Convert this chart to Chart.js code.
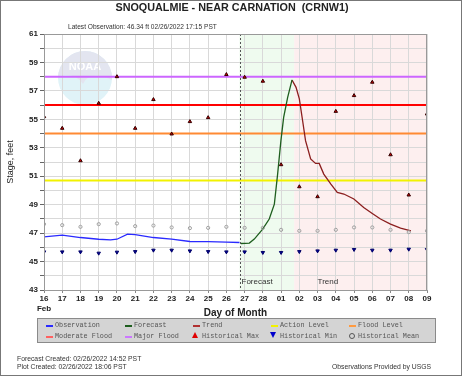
<!DOCTYPE html>
<html>
<head>
<meta charset="utf-8">
<script src="https://cdn.jsdelivr.net/npm/chart.js@4/dist/chart.umd.min.js"></script>
<style>
  html, body { margin: 0; padding: 0; background: #fff; }
  #wrap { position: relative; width: 462px; height: 376px; box-sizing: border-box; border: 1px solid #777; overflow: hidden; font-family: "Liberation Sans", Arial, sans-serif; }
  #chart { position: absolute; left: 0; top: 0; }
  .txt { position: absolute; white-space: pre; color: #222; }
  #title { left: 0; width: 462px; top: 0px; text-align: center; font-weight: bold; font-size: 10.8px; }
  #latest { left: 67px; top: 22px; font-size: 6.6px; color: #333; }
  #legend { position: absolute; left: 36px; top: 317px; width: 399px; height: 25px; box-sizing: border-box; background: #d4d4d4; border: 1px solid #8a8a8a; font-family: "Liberation Mono", "DejaVu Sans Mono", monospace; font-size: 6.8px; color: #555; }
  .li { position: absolute; white-space: pre; }
  .sw { position: absolute; width: 7px; height: 2px; }
  .up { position: absolute; width: 0; height: 0; border-left: 3.5px solid transparent; border-right: 3.5px solid transparent; border-bottom: 6px solid #e00000; }
  .dn { position: absolute; width: 0; height: 0; border-left: 3.5px solid transparent; border-right: 3.5px solid transparent; border-top: 6px solid #0000cc; }
  .ci { position: absolute; width: 4px; height: 4px; border: 1px solid #555; border-radius: 50%; }
  .foot { font-size: 6.8px; color: #333; }
</style>
</head>
<body>
<div id="wrap">
  <canvas id="chart" width="462" height="376"></canvas>
  <div class="txt" id="title">SNOQUALMIE - NEAR CARNATION  (CRNW1)</div>
  <div class="txt" id="latest">Latest Observation: 46.34 ft 02/26/2022 17:15 PST</div>
  <div id="legend"></div>
  <div class="txt foot" style="left:16px; top:354px;">Forecast Created: 02/26/2022 14:52 PST</div>
  <div class="txt foot" style="left:16px; top:362px;">Plot Created: 02/26/2022 18:06 PST</div>
  <div class="txt foot" style="right:30px; top:362px;">Observations Provided by USGS</div>
</div>
<script>
// x values are days since Feb 16 00:00
const dayLabels = ['16', '17', '18', '19', '20', '21', '22', '23', '24', '25', '26', '27', '28',
                   '01', '02', '03', '04', '05', '06', '07', '08', '09'];

const obsDays  = [0, 1, 2, 3, 3.65, 4, 4.58, 5, 6, 7, 8, 9, 10, 10.72];
const obsStage = [46.74, 46.86, 46.69, 46.57, 46.53, 46.57, 46.93, 46.89, 46.69, 46.57, 46.41, 46.4, 46.36, 46.34];

const fcstDays  = [10.8, 11.26, 11.53, 11.99, 12.35, 12.63, 12.81, 12.99, 13.14, 13.36, 13.6];
const fcstStage = [46.27, 46.3, 46.58, 47.28, 47.99, 49.04, 51.15, 53.5, 55.14, 56.55, 57.77];

const trendDays  = [13.6, 13.82, 14.0, 14.18, 14.34, 14.62, 14.89, 15.09, 15.34, 15.73, 16.08, 16.44,
                    16.99, 17.53, 18.0, 18.45, 19.0, 19.55, 20.12];
const trendStage = [57.77, 57.25, 56.44, 54.9, 53.5, 52.21, 51.9, 51.9, 51.15, 50.45, 49.86, 49.75,
                    49.4, 48.8, 48.38, 47.99, 47.63, 47.35, 47.16];

const histMax  = [55.19, 54.37, 52.09, 56.13, 58.0, 54.37, 56.39, 53.97, 54.84, 55.12, 58.15,
                  57.96, 57.68, 51.81, 50.26, 49.56, 55.56, 56.67, 57.61, 52.51, 49.68, 55.38];
const histMin  = [45.68, 45.68, 45.68, 45.59, 45.66, 45.7, 45.8, 45.8, 45.75, 45.7, 45.68,
                  45.68, 45.64, 45.64, 45.7, 45.75, 45.8, 45.85, 45.8, 45.8, 45.87, 45.85];
const histMean = [47.63, 47.56, 47.44, 47.63, 47.68, 47.49, 47.53, 47.4, 47.35, 47.37, 47.44,
                  47.37, 47.37, 47.23, 47.16, 47.16, 47.23, 47.4, 47.4, 47.23, 47.07, 47.16];

const actionLevel = 50.7;
const floodLevel = 54;
const moderateFlood = 56;
const majorFlood = 58;

const latestObsDay = 10.72;
const trendStartDay = 13.72;

function xy(xs, ys) { return xs.map((x, i) => ({ x: x, y: ys[i] })); }
function level(v) { return [{ x: 0, y: v }, { x: 21, y: v }]; }
function daily(ys) { return ys.map((y, i) => ({ x: i, y: y })); }

const backdrop = {
    id: 'backdrop',
    beforeDraw(chart) {
        const ctx = chart.ctx;
        const a = chart.chartArea;
        const x = chart.scales.x;
        const x1 = x.getPixelForValue(latestObsDay);
        const x2 = x.getPixelForValue(trendStartDay);
        ctx.save();
        ctx.fillStyle = '#effbef';
        ctx.fillRect(x1, a.top, x2 - x1, a.bottom - a.top);
        ctx.fillStyle = '#fdefef';
        ctx.fillRect(x2, a.top, a.right - x2, a.bottom - a.top);

        // NOAA watermark
        const cx = 84, cy = 77, r = 27;
        ctx.beginPath();
        ctx.arc(cx, cy, r, 0, Math.PI * 2);
        ctx.fillStyle = '#e0f3f8';
        ctx.fill();
        ctx.save();
        ctx.clip();
        ctx.beginPath();
        ctx.moveTo(cx - r, cy - r);
        ctx.lineTo(cx + r, cy - r);
        ctx.lineTo(cx + r, cy + 2);
        ctx.quadraticCurveTo(cx + 4, cy - 8, cx - 2, cy + 6);
        ctx.quadraticCurveTo(cx - 10, cy - 6, cx - r, cy - 2);
        ctx.closePath();
        ctx.fillStyle = '#e3e5f0';
        ctx.fill();
        ctx.restore();
        ctx.fillStyle = '#ffffff';
        ctx.font = 'bold 11px "Liberation Sans", Arial';
        ctx.textAlign = 'center';
        ctx.textBaseline = 'middle';
        ctx.fillText('NOAA', cx, cy - 11);
        ctx.restore();
    },
    afterDraw(chart) {
        const ctx = chart.ctx;
        const a = chart.chartArea;
        const x = chart.scales.x;
        const x1 = Math.round(x.getPixelForValue(latestObsDay)) + 0.5;
        ctx.save();
        ctx.strokeStyle = '#555';
        ctx.lineWidth = 1;
        ctx.setLineDash([2, 2]);
        ctx.beginPath();
        ctx.moveTo(x1, a.top);
        ctx.lineTo(x1, a.bottom);
        ctx.stroke();
        ctx.setLineDash([]);
        ctx.strokeStyle = '#999';
        ctx.strokeRect(a.left + 0.5, a.top + 0.5, a.right - a.left - 1, a.bottom - a.top);
        ctx.fillStyle = '#333';
        ctx.font = '8px "Liberation Sans", Arial';
        ctx.textBaseline = 'middle';
        ctx.fillText('Forecast', x1 + 1, a.bottom - 8);
        ctx.fillText('Trend', x.getPixelForValue(15.0), a.bottom - 8);
        ctx.restore();
    }
};

const lineOpts = { showLine: true, pointRadius: 0, fill: false, tension: 0 };

const datasets = [
    { label: 'Historical Max', data: daily(histMax), showLine: false, pointStyle: 'triangle',
      pointRadius: 2, backgroundColor: '#cc0000', borderColor: '#330000', borderWidth: 1, order: 0 },
    { label: 'Historical Min', data: daily(histMin), showLine: false, pointStyle: 'triangle', rotation: 180,
      pointRadius: 2, backgroundColor: '#000099', borderColor: '#000066', borderWidth: 1, order: 0 },
    { label: 'Historical Mean', data: daily(histMean), showLine: false, pointStyle: 'circle',
      pointRadius: 1.6, backgroundColor: 'rgba(255,255,255,0)', borderColor: '#a0a0a0', borderWidth: 1, order: 0 },
    Object.assign({ label: 'Observation', data: xy(obsDays, obsStage), borderColor: '#2a2aff', borderWidth: 1.3, order: 1 }, lineOpts),
    Object.assign({ label: 'Forecast', data: xy(fcstDays, fcstStage), borderColor: '#1e5e1e', borderWidth: 1.3, order: 1 }, lineOpts),
    Object.assign({ label: 'Trend', data: xy(trendDays, trendStage), borderColor: '#8b1e1e', borderWidth: 1.3, order: 1 }, lineOpts),
    Object.assign({ label: 'Action Level', data: level(actionLevel), borderColor: '#f2f200', borderWidth: 2, order: 2 }, lineOpts),
    Object.assign({ label: 'Flood Level', data: level(floodLevel), borderColor: '#ff8a33', borderWidth: 2, order: 2 }, lineOpts),
    Object.assign({ label: 'Moderate Flood', data: level(moderateFlood), borderColor: '#ff0000', borderWidth: 2, order: 2 }, lineOpts),
    Object.assign({ label: 'Major Flood', data: level(majorFlood), borderColor: '#cc66ff', borderWidth: 2, order: 2 }, lineOpts)
];

const tickFont = { family: '"Liberation Sans", Arial', size: 8, weight: 'bold', lineHeight: 1.35 };

new Chart(document.getElementById('chart').getContext('2d'), {
    type: 'scatter',
    data: { datasets: datasets },
    plugins: [backdrop],
    options: {
        responsive: false,
        animation: false,
        layout: { padding: { left: 0, right: 36, top: 33, bottom: 58 } },
        plugins: { legend: { display: false }, tooltip: { enabled: false } },
        scales: {
            x: {
                type: 'linear', min: 0, max: 21,
                afterFit: s => { s.height = 29; },
                grid: { color: '#d9d9d9', tickLength: 3, tickColor: '#888' },
                border: { color: '#999' },
                ticks: {
                    stepSize: 1, autoSkip: false, maxRotation: 0, padding: 0, color: '#222', font: tickFont,
                    callback: v => v === 0 ? [dayLabels[0], 'Feb'] : dayLabels[v]
                },
                title: { display: true, text: 'Day of Month', color: '#222', padding: 0,
                         font: { family: '"Liberation Sans", Arial', size: 10, weight: 'bold' } }
            },
            y: {
                min: 43, max: 61,
                afterFit: s => { s.width = 43; },
                grid: { color: '#d9d9d9', tickLength: 4, tickColor: '#666' },
                border: { color: '#999' },
                ticks: {
                    stepSize: 1, autoSkip: false, padding: 2, color: '#222', font: tickFont,
                    callback: v => (v % 2 === 1) ? String(v) : ''
                },
                title: { display: true, text: 'Stage, feet', color: '#222', padding: { top: 4, bottom: 0 },
                         font: { family: '"Liberation Sans", Arial', size: 9 } }
            }
        }
    }
});

// legend box
const legendItems = [
    { t: 'Observation', k: 'sw', c: '#2a2aff' },
    { t: 'Forecast', k: 'sw', c: '#1e5e1e' },
    { t: 'Trend', k: 'sw', c: '#b03030' },
    { t: 'Action Level', k: 'sw', c: '#f2f200' },
    { t: 'Flood Level', k: 'sw', c: '#ff9a40' },
    { t: 'Moderate Flood', k: 'sw', c: '#ff6060' },
    { t: 'Major Flood', k: 'sw', c: '#cc77ff' },
    { t: 'Historical Max', k: 'up' },
    { t: 'Historical Min', k: 'dn' },
    { t: 'Historical Mean', k: 'ci' }
];
const colX = [8, 87, 155, 233, 311];
const legend = document.getElementById('legend');
legendItems.forEach((it, i) => {
    const col = i % 5, row = Math.floor(i / 5);
    const y = row === 0 ? 6 : 17;
    const m = document.createElement('div');
    m.className = it.k;
    if (it.k === 'sw') { m.style.background = it.c; m.style.left = colX[col] + 'px'; m.style.top = y + 'px'; }
    else if (it.k === 'ci') { m.style.left = (colX[col]) + 'px'; m.style.top = (y - 3) + 'px'; }
    else { m.style.left = (colX[col] - 1) + 'px'; m.style.top = (y - 4) + 'px'; }
    legend.appendChild(m);
    const s = document.createElement('div');
    s.className = 'li';
    s.textContent = it.t;
    s.style.left = (colX[col] + 9) + 'px';
    s.style.top = (y - 4) + 'px';
    legend.appendChild(s);
});
</script>
</body>
</html>
